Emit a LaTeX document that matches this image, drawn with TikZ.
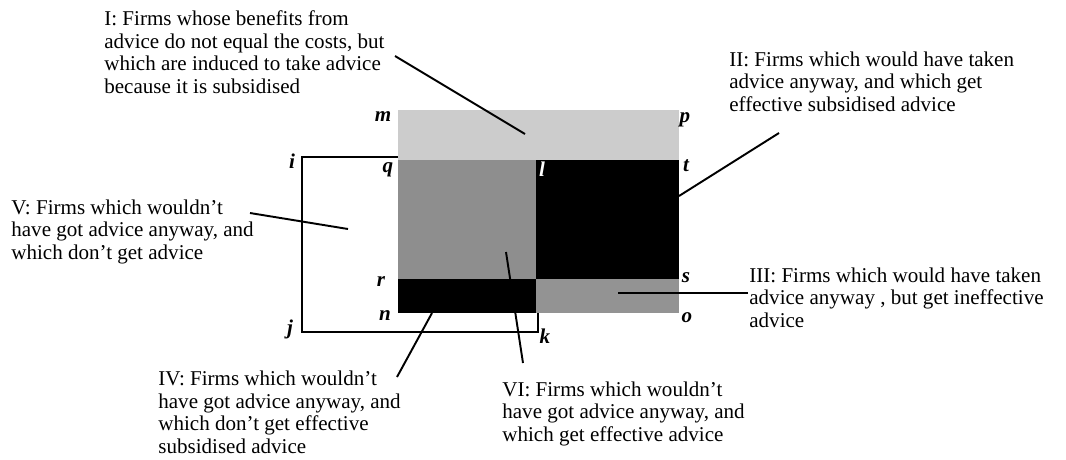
\documentclass[tikz,border=0pt]{standalone}
\usepackage{fontspec}
\setmainfont{Liberation Serif}
\usepackage{tikz}
\definecolor{lightShade}{HTML}{CCCCCC}
\definecolor{midShade}{HTML}{8E8E8E}
\definecolor{lowShade}{HTML}{939393}
\tikzset{
    leader/.style={line width=1.1pt},
    caption/.style={align=left, anchor=base west, inner sep=0pt,
        font=\fontsize{12}{12.8}\selectfont},
    corner/.style={anchor=base, inner sep=0pt,
        font=\fontsize{12}{12.8}\selectfont\bfseries\itshape}
}
\begin{document}
\begin{tikzpicture}[x=0.57pt, y=-0.57pt]
    \useasboundingbox (0,0) rectangle (1066,459);
    % outer box i j k
    \draw[line width=1.1pt] (302,157) rectangle (538,332);
    % shaded regions
    \fill[lightShade] (398,110) rectangle (679,160);
    \fill[midShade] (398,160) rectangle (536,279);
    \fill[black] (536,160) rectangle (679,279);
    \fill[black] (398,279) rectangle (536,313);
    \fill[lowShade] (536,279) rectangle (679,313);
    % corner letters
    \node[corner] (m) at (383,121) {m};
    \node[corner] (p) at (685,122) {p};
    \node[corner] (i) at (292,168) {i};
    \node[corner] (q) at (388,172) {q};
    \node[corner, white] (l) at (542,176) {l};
    \node[corner] (t) at (686,171) {t};
    \node[corner] (r) at (381,286) {r};
    \node[corner] (s) at (686,282) {s};
    \node[corner] (n) at (385,320) {n};
    \node[corner] (o) at (687,322) {o};
    \node[corner] (j) at (290,334) {j};
    \node[corner] (k) at (545,343) {k};
    % captions (placed at the baseline of their last line)
    \node[caption] (capI) at (104,93) {I: Firms whose benefits from\\
        advice do not equal the costs, but\\which are induced to take advice\\
        because it is subsidised};
    \node[caption] (capII) at (729,111) {II: Firms which would have taken\\
        advice anyway, and which get\\effective subsidised advice};
    \node[caption] (capIII) at (749,327) {III: Firms which would have taken\\
        advice anyway , but get ineffective\\advice};
    \node[caption] (capIV) at (158,453) {IV: Firms which wouldn't\\
        have got advice anyway, and\\which don't get effective\\
        subsidised advice};
    \node[caption] (capV) at (11,259) {V: Firms which wouldn't\\
        have got advice anyway, and\\which don't get advice};
    \node[caption] (capVI) at (502,441) {VI: Firms which wouldn't\\
        have got advice anyway, and\\which get effective advice};
    % leader ends
    \coordinate (fromI) at (395,56);   \coordinate (toI) at (525,134);
    \coordinate (fromII) at (779,133); \coordinate (toII) at (679,196);
    \coordinate (fromIII) at (748,293); \coordinate (toIII) at (618,293);
    \coordinate (fromIV) at (397,377); \coordinate (toIV) at (432,313);
    \coordinate (fromV) at (250,213);  \coordinate (toV) at (348,229);
    \coordinate (fromVI) at (523,363); \coordinate (toVI) at (506,252);
    \foreach \c in {I,II,III,IV,V,VI}
        \draw[leader] (from\c) -- (to\c);
\end{tikzpicture}
\end{document}
